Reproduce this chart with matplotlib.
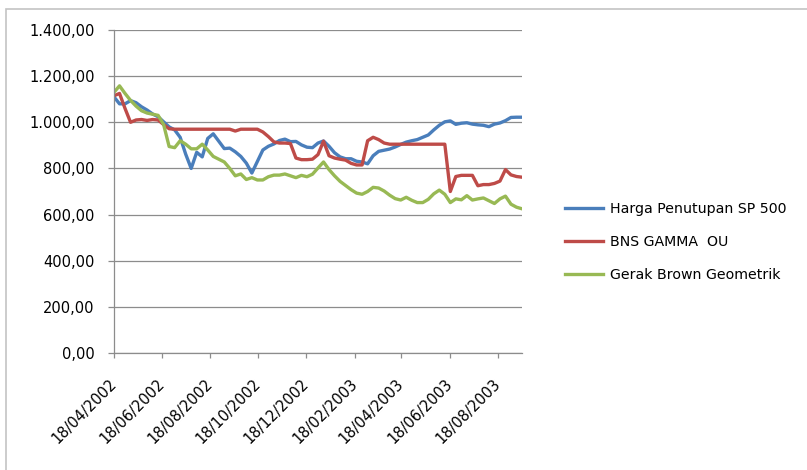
import numpy as np
import pandas as pd
import matplotlib
matplotlib.use("Agg")
import matplotlib.pyplot as plt
import matplotlib.dates as mdates
from matplotlib import ticker
from matplotlib.patches import Rectangle

plt.rcParams['font.family'] = ['DejaVu Sans']

# weekly values, starting 18/04/2002
start_date = "2002-04-18"
sp500 = [1110, 1080, 1080, 1094, 1085, 1067, 1053, 1036, 1024, 1002,
         980, 967, 935, 862, 800, 870, 850, 930, 950, 918,
         886, 888, 872, 852, 823, 780, 830, 880, 896, 906,
         921, 927, 916, 917, 902, 892, 890, 910, 919, 896,
         868, 850, 842, 842, 831, 828, 820, 855, 874, 879,
         884, 893, 904, 914, 920, 925, 935, 945, 967, 987,
         1002, 1006, 991, 996, 998, 992, 989, 987, 981, 992,
         997, 1007, 1021, 1022, 1022]
bns_gamma_ou = [1115, 1125, 1060, 1000, 1010, 1012, 1008, 1012, 1010, 990,
                972, 970, 970, 970, 970, 970, 970, 970, 970, 970,
                970, 970, 962, 970, 970, 970, 970, 958, 938, 915,
                910, 910, 908, 845, 838, 838, 840, 860, 918, 855,
                845, 840, 836, 822, 815, 815, 920, 935, 925, 910,
                905, 905, 905, 905, 905, 905, 905, 905, 905, 905,
                905, 700, 765, 770, 770, 770, 725, 730, 730, 735,
                745, 795, 772, 765, 762]
gbm = [1130, 1158, 1125, 1095, 1070, 1050, 1040, 1035, 1030, 990,
       895, 890, 920, 905, 885, 885, 905, 880, 852, 840,
       828, 800, 768, 776, 752, 760, 750, 750, 764, 771,
       771, 776, 768, 760, 770, 764, 775, 802, 828, 795,
       768, 744, 726, 708, 693, 688, 700, 718, 715, 702,
       684, 669, 663, 675, 662, 652, 652, 666, 690, 706,
       688, 652, 668, 664, 682, 663, 668, 672, 660, 648,
       668, 680, 645, 632, 625]

labels = ["Harga Penutupan SP 500", "BNS GAMMA  OU", "Gerak Brown Geometrik"]
colors = ["#4A7EBB", "#BE4B48", "#98B954"]

dates = pd.date_range(start_date, periods=len(sp500), freq="7D")

fig = plt.figure(figsize=(8.07, 4.70), dpi=100)
ax = fig.add_axes([114/807, 1 - 353/470, (522 - 114)/807, (353 - 30)/470])

# outer chart frame
fig.patches.append(Rectangle((6/807, -0.1), 1.2, 1.1 - 9/470, transform=fig.transFigure,
                             fill=False, edgecolor="#c3c3c3", lw=1.2, clip_on=False))

for series, lab, col in zip([sp500, bns_gamma_ou, gbm], labels, colors):
    ax.plot(dates, series, color=col, lw=2.4, label=lab, solid_joinstyle="round")

ax.set_ylim(0, 1400)
ax.set_xlim(dates[0], dates[-1])
ax.yaxis.set_major_locator(ticker.MultipleLocator(200))


def fmt_id(v, pos):
    s = f"{v:,.2f}"
    return s.replace(",", "X").replace(".", ",").replace("X", ".")


ax.yaxis.set_major_formatter(ticker.FuncFormatter(fmt_id))
ax.xaxis.set_major_locator(mdates.MonthLocator(bymonth=[2, 4, 6, 8, 10, 12], bymonthday=18))
ax.xaxis.set_major_formatter(mdates.DateFormatter("%d/%m/%Y"))

ax.grid(axis="y", color="#8c8c8c", lw=0.9)
ax.set_axisbelow(True)
for s in ["top", "right"]:
    ax.spines[s].set_visible(False)
for s in ["left", "bottom"]:
    ax.spines[s].set_color("#8c8c8c")
    ax.spines[s].set_linewidth(0.9)

ax.tick_params(axis="y", length=4.3, width=0.9, color="#8c8c8c", pad=9.5, labelsize=10.5)
ax.tick_params(axis="x", length=3.6, width=0.9, color="#8c8c8c", pad=17, labelsize=10.5)
for t in ax.get_xticklabels():
    t.set_rotation(45)
    t.set_ha("right")
    t.set_va("center")
    t.set_rotation_mode("anchor")

ax.legend(loc="center left", bbox_to_anchor=(565/807, 1 - 242/470), bbox_transform=fig.transFigure,
          frameon=False, fontsize=10.2, handlelength=2.7, handletextpad=0.45,
          labelspacing=1.35, borderpad=0, borderaxespad=0)

fig.savefig("out.png", dpi=100)
